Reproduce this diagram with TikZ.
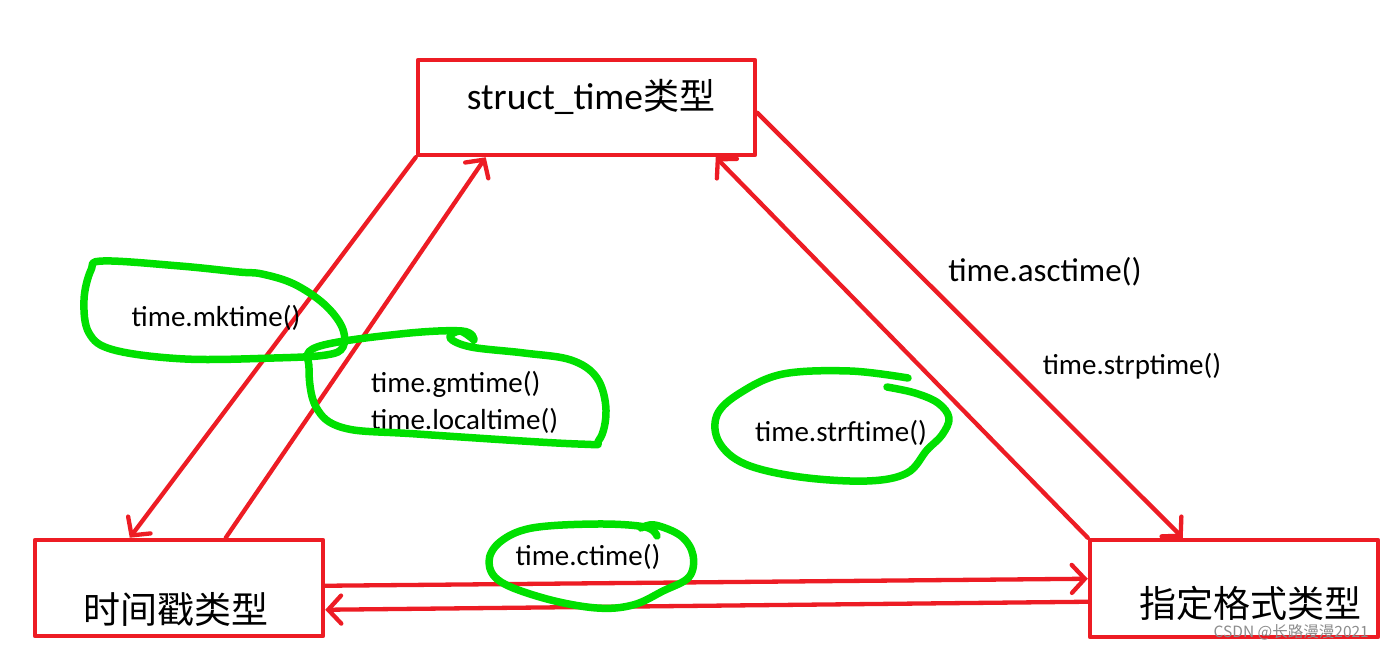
\documentclass[tikz,border=0pt]{standalone}
\usepackage{fontspec}
\setmainfont{Carlito}
\newfontfamily\cjk{Noto Sans CJK SC}
\usetikzlibrary{arrows.meta,calc}
\definecolor{boxred}{RGB}{237,28,36}
\definecolor{hlgreen}{RGB}{0,224,0}
\begin{document}
\begin{tikzpicture}[x=1pt,y=-1pt,
  typebox/.style={draw=boxred,line width=4.5pt,rectangle,inner sep=0pt,line join=round},
  conn/.style={draw=boxred,line width=4.3pt,line cap=round,
    -{Straight Barb[length=13pt,width=28pt,line cap=round]}},
  lbl/.style={inner sep=0pt,font=\fontsize{29}{34}\selectfont},
  biglbl/.style={inner sep=0pt,font=\fontsize{33}{38}\selectfont},
  hl/.style={draw=hlgreen,line width=7.5pt,line cap=round,line join=round}]
\useasboundingbox (0,0) rectangle (1385,645);
\fill[white] (0,0) rectangle (1385,645);

% boxes
\node[typebox,minimum width=337pt,minimum height=95pt] (top) at (586.5,107.5) {};
\node[typebox,minimum width=288pt,minimum height=96pt] (left) at (179,588) {};
\node[typebox,minimum width=288pt,minimum height=97pt] (right) at (1234,588.5) {};

\node[inner sep=0pt,font=\fontsize{37.5}{42}\selectfont] (toptext) at (591,97) {struct\_time{\cjk\fontsize{36}{42}\selectfont 类型}};
\node[inner sep=0pt,font=\cjk\fontsize{37}{42}\selectfont] (lefttext) at (176,609) {时间戳类型};
\node[inner sep=0pt,font=\cjk\fontsize{37}{42}\selectfont] (righttext) at (1250,603) {指定格式类型};

% connectors
\draw[conn] (top.south west) -- ([xshift=97pt]left.north west);
\draw[conn] ([xshift=193pt]left.north west) -- ([xshift=70pt]top.south west);
\draw[conn] ([yshift=-55pt]top.north east) -- ([xshift=95pt]right.north west);
\draw[conn] (right.north west) -- ([xshift=300pt]top.south west);
\draw[conn] ([yshift=-48pt]left.north east) -- ([yshift=-41pt]right.north west);
\draw[conn] ([yshift=-64pt]right.north west) -- ([yshift=-72pt]left.north east);

% labels
\node[lbl] (mk) at (216,318) {time.mktime()};
\node[lbl,anchor=west] (gm) at (371,384) {time.gmtime()};
\node[lbl,anchor=west] (lt) at (371,421) {time.localtime()};
\node[lbl] (sf) at (841,433) {time.strftime()};
\node[lbl] (ct) at (588,557) {time.ctime()};
\node[biglbl] (as) at (1045,272) {time.asctime()};
\node[lbl] (sp) at (1132,366) {time.strptime()};

% green hand-drawn loops
\draw[hl] plot[smooth cycle,tension=0.6] coordinates {(103,261) (180,266) (239,272) (262,274) (294,284) (324,304) (342,327) (343,347) (326,355) (274,358) (185,359) (114,350) (89,333) (84,300) (91,270)};
\draw[hl] plot[smooth,tension=0.6] coordinates {(474,340) (462,331) (400,334) (317,347) (309,368) (316,407) (344,428) (417,434) (578,444) (599,440) (606,410) (597,378) (571,360) (524,353) (471,347) (450,338) (460,331) (474,340)};
\draw[hl] plot[smooth,tension=0.6] coordinates {(908,378) (850,371) (783,374) (740,393) (717,415) (719,442) (745,464) (800,477) (867,481) (907,473) (927,450) (942,435) (949,418) (938,403) (915,393) (887,387)};
\draw[hl] plot[smooth,tension=0.6] coordinates {(657,536) (645,527) (597,524) (532,528) (500,542) (489,562) (501,582) (547,599) (597,608) (633,605) (663,591) (689,577) (693,555) (681,536) (655,525) (641,528)};

% watermark
\node[inner sep=0pt,anchor=east,text=black!45,font=\cjk\fontsize{15.5}{18}\selectfont] (wm) at (1369,632) {CSDN @长路漫漫2021};
\end{tikzpicture}
\end{document}
